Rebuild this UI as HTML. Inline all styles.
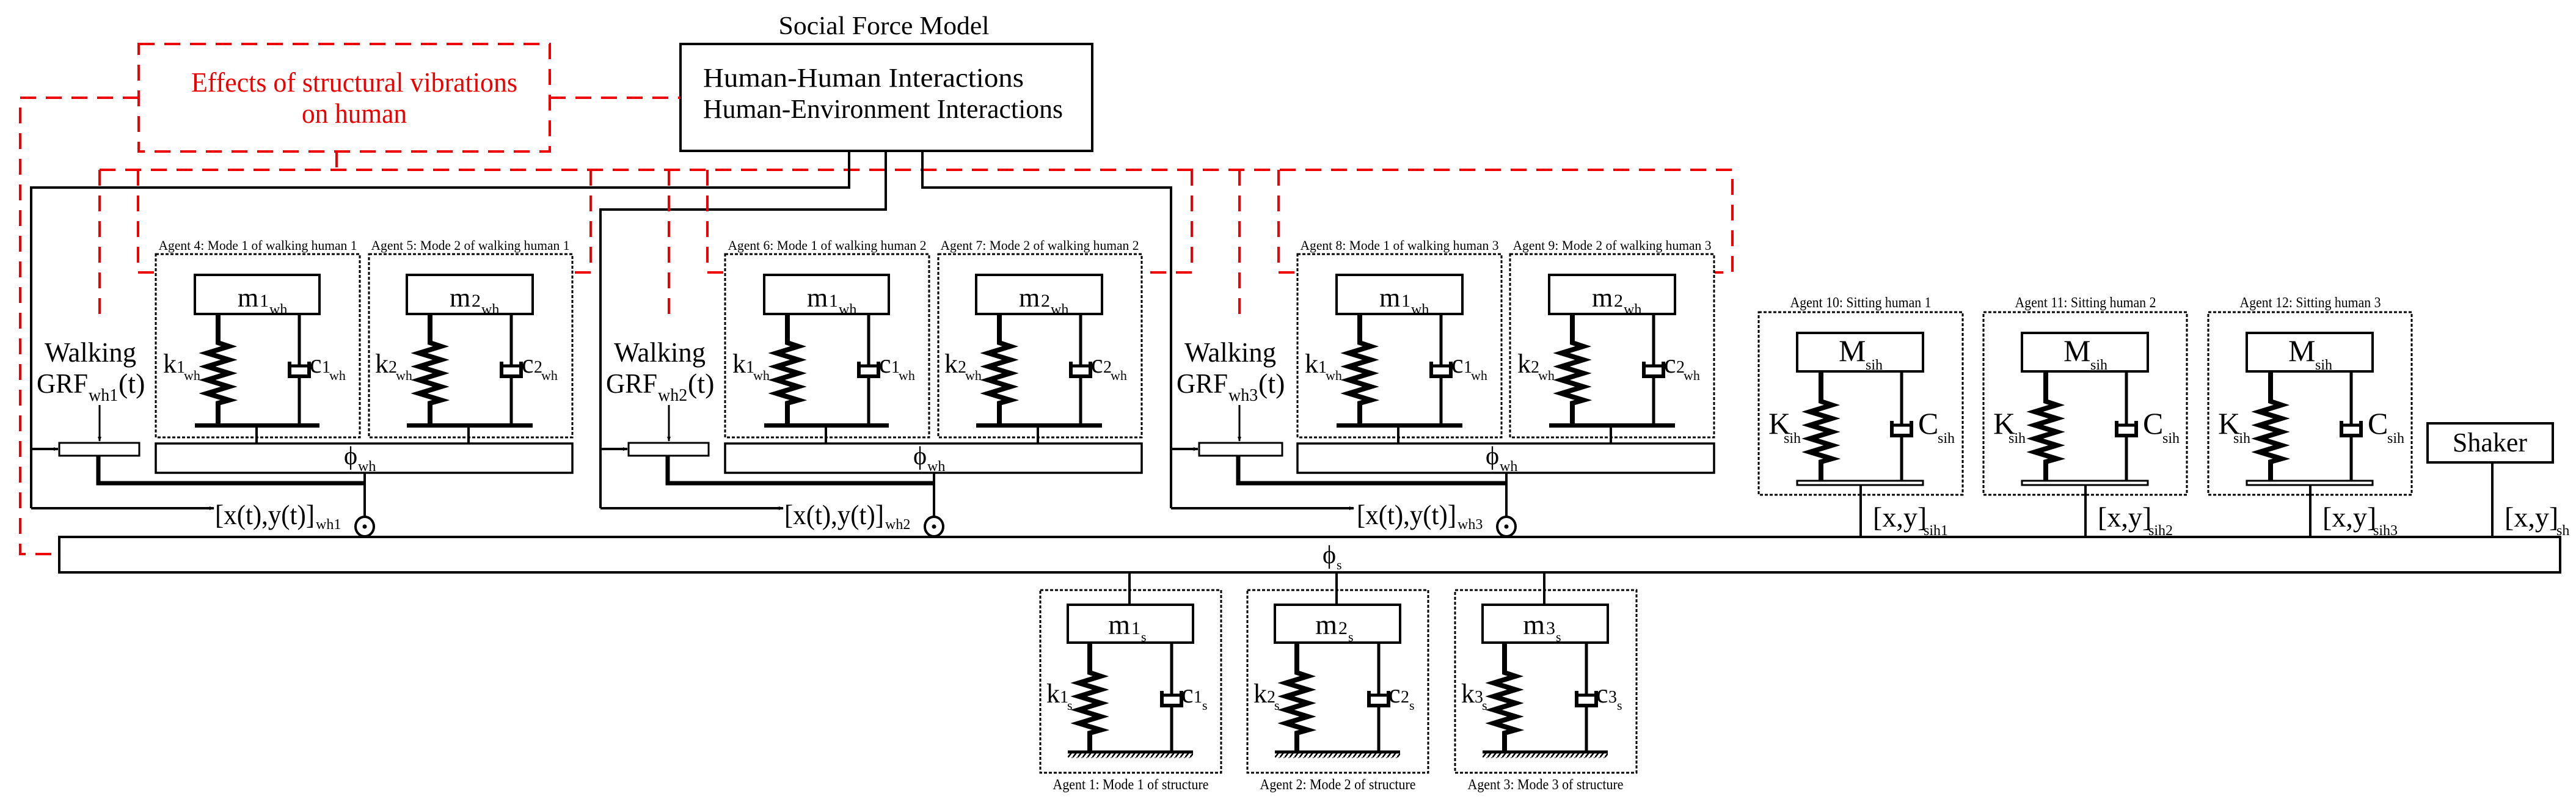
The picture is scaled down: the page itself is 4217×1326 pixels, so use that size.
<!DOCTYPE html>
<html><head><meta charset="utf-8"><style>
html,body{margin:0;padding:0;background:#fff;}
svg{display:block;font-family:"Liberation Serif",serif;}
text{font-family:"Liberation Serif",serif;fill:#000;}
</style></head><body>
<svg width="4217" height="1326" viewBox="0 0 4217 1326" xmlns="http://www.w3.org/2000/svg" font-family="Liberation Serif, serif">
<defs>
<pattern id="hatch" width="8" height="10" patternUnits="userSpaceOnUse"><path d="M0,10 L8,0" stroke="#000" stroke-width="2.5"/></pattern>
<marker id="ar" markerWidth="8" markerHeight="8" refX="7" refY="4" orient="auto" markerUnits="userSpaceOnUse"><path d="M0,1 L8,4 L0,7z" fill="#000"/></marker>
</defs>

<text x="1447" y="56" font-size="42" text-anchor="middle" textLength="345" lengthAdjust="spacingAndGlyphs">Social Force Model</text>
<rect x="1114" y="72" width="674" height="175" fill="none" stroke="#000" stroke-width="4"/>
<text x="1151" y="142" font-size="44" textLength="525" lengthAdjust="spacingAndGlyphs">Human-Human Interactions</text>
<text x="1151" y="193" font-size="44" textLength="589" lengthAdjust="spacingAndGlyphs">Human-Environment Interactions</text>

<g fill="none" stroke="#e00" stroke-width="4" stroke-dasharray="26,16">
<rect x="227" y="72" width="673" height="176"/>
<path d="M900,160 H1114"/>
<path d="M227,160 H33 V907 H97"/>
<path d="M551,248 V278"/>
<path d="M163,278 H2836 V446 H2807"/>
</g>
<text x="580" y="150" font-size="46" style="fill:#e00" text-anchor="middle" textLength="534" lengthAdjust="spacingAndGlyphs">Effects of structural vibrations</text>
<text x="580" y="201" font-size="46" style="fill:#e00" text-anchor="middle" textLength="172" lengthAdjust="spacingAndGlyphs">on human</text>

<g fill="none" stroke="#000" stroke-width="4">
<path d="M1390,247 V307 H51 V832"/>
<path d="M1450,247 V343 H983 V832"/>
<path d="M1510,247 V307 H1917 V832"/>
</g>

<g>
<g fill="none" stroke="#e00" stroke-width="4" stroke-dasharray="26,16">
<path d="M163,278 V523"/>
<path d="M226,278 V446 H255"/>
<path d="M967,278 V446 H939"/>
</g>
<text x="148" y="592" font-size="46" text-anchor="middle" textLength="150" lengthAdjust="spacingAndGlyphs">Walking</text>
<text x="60" y="643" font-size="46" textLength="84" lengthAdjust="spacingAndGlyphs">GRF</text>
<text x="145" y="656" font-size="28">wh1</text>
<text x="194" y="643" font-size="46">(t)</text>
<path d="M163,663 V722" stroke="#000" stroke-width="3" marker-end="url(#ar)"/>
<path d="M51,735 H95" stroke="#000" stroke-width="4" marker-end="url(#ar)"/>
<path d="M51,832 H350" stroke="#000" stroke-width="4" marker-end="url(#ar)"/>
<rect x="97" y="725" width="131" height="21" fill="#fff" stroke="#000" stroke-width="3"/>
<path d="M161,746 V791 H597" fill="none" stroke="#000" stroke-width="7"/>
<rect x="255" y="726" width="682" height="48" fill="none" stroke="#000" stroke-width="3.5"/>
<text x="563" y="760" font-size="42">ϕ</text>
<text x="586" y="771" font-size="24">wh</text>
<path d="M597,774 V848" stroke="#000" stroke-width="4"/>
<ellipse cx="597" cy="862" rx="15" ry="16" fill="#fff" stroke="#000" stroke-width="4"/>
<circle cx="597" cy="862" r="3.5" fill="#000"/>
<text x="352" y="858" font-size="46" textLength="163" lengthAdjust="spacingAndGlyphs">[x(t),y(t)]</text>
<text x="517" y="866" font-size="24">wh1</text>
<rect x="255" y="416" width="334" height="300" fill="none" stroke="#000" stroke-width="3" stroke-dasharray="5,3"/>
<rect x="604" y="416" width="333" height="300" fill="none" stroke="#000" stroke-width="3" stroke-dasharray="5,3"/>
<text x="422" y="409" font-size="22" text-anchor="middle" textLength="325" lengthAdjust="spacingAndGlyphs">Agent 4: Mode 1 of walking human 1</text>
<text x="770" y="409" font-size="22" text-anchor="middle" textLength="325" lengthAdjust="spacingAndGlyphs">Agent 5: Mode 2 of walking human 1</text>
<g transform="translate(319,450)">
<rect x="0" y="0" width="204" height="64" fill="none" stroke="#000" stroke-width="4"/>
<path d="M38,64 V111 l18,6 l-36,11 l36,11 l-36,11 l36,11 l-36,11 l36,11 l-36,11 l36,11 l-18,5 V243" fill="none" stroke="#000" stroke-width="8"/>
<path d="M171,64 V149 M157,149 H185 M171,166 V243" stroke="#000" stroke-width="5" fill="none"/>
<path d="M155,142 V166 H187 V142" fill="none" stroke="#000" stroke-width="6"/>
<rect x="0" y="243" width="204" height="7" fill="#000"/>
<path d="M101,250 V276" stroke="#000" stroke-width="4"/>
<text x="70" y="52" font-size="44">m</text><text x="106" y="52" font-size="30">1</text><text x="122" y="64" font-size="24">wh</text>
<text x="-52" y="160" font-size="44">k</text><text x="-30" y="160" font-size="28">1</text><text x="-18" y="172" font-size="22">wh</text>
<text x="188" y="160" font-size="44">c</text><text x="208" y="160" font-size="28">1</text><text x="220" y="172" font-size="22">wh</text>
</g>
<g transform="translate(666,450)">
<rect x="0" y="0" width="206" height="64" fill="none" stroke="#000" stroke-width="4"/>
<path d="M38,64 V111 l18,6 l-36,11 l36,11 l-36,11 l36,11 l-36,11 l36,11 l-36,11 l36,11 l-18,5 V243" fill="none" stroke="#000" stroke-width="8"/>
<path d="M171,64 V149 M157,149 H185 M171,166 V243" stroke="#000" stroke-width="5" fill="none"/>
<path d="M155,142 V166 H187 V142" fill="none" stroke="#000" stroke-width="6"/>
<rect x="0" y="243" width="206" height="7" fill="#000"/>
<path d="M101,250 V276" stroke="#000" stroke-width="4"/>
<text x="70" y="52" font-size="44">m</text><text x="106" y="52" font-size="30">2</text><text x="122" y="64" font-size="24">wh</text>
<text x="-52" y="160" font-size="44">k</text><text x="-30" y="160" font-size="28">2</text><text x="-18" y="172" font-size="22">wh</text>
<text x="188" y="160" font-size="44">c</text><text x="208" y="160" font-size="28">2</text><text x="220" y="172" font-size="22">wh</text>
</g>
</g>

<g transform="translate(932,0)">
<g fill="none" stroke="#e00" stroke-width="4" stroke-dasharray="26,16">
<path d="M163,278 V523"/><path d="M226,278 V446 H255"/><path d="M1019,278 V446 H939"/>
</g>
<text x="148" y="592" font-size="46" text-anchor="middle" textLength="150" lengthAdjust="spacingAndGlyphs">Walking</text>
<text x="60" y="643" font-size="46" textLength="84" lengthAdjust="spacingAndGlyphs">GRF</text>
<text x="145" y="656" font-size="28">wh2</text>
<text x="194" y="643" font-size="46">(t)</text>
<path d="M163,663 V722" stroke="#000" stroke-width="3" marker-end="url(#ar)"/>
<path d="M51,735 H95" stroke="#000" stroke-width="4" marker-end="url(#ar)"/>
<path d="M51,832 H350" stroke="#000" stroke-width="4" marker-end="url(#ar)"/>
<rect x="97" y="725" width="131" height="21" fill="#fff" stroke="#000" stroke-width="3"/>
<path d="M161,746 V791 H597" fill="none" stroke="#000" stroke-width="7"/>
<rect x="255" y="726" width="682" height="48" fill="none" stroke="#000" stroke-width="3.5"/>
<text x="563" y="760" font-size="42">ϕ</text><text x="586" y="771" font-size="24">wh</text>
<path d="M597,774 V848" stroke="#000" stroke-width="4"/>
<ellipse cx="597" cy="862" rx="15" ry="16" fill="#fff" stroke="#000" stroke-width="4"/><circle cx="597" cy="862" r="3.5" fill="#000"/>
<text x="352" y="858" font-size="46" textLength="163" lengthAdjust="spacingAndGlyphs">[x(t),y(t)]</text><text x="517" y="866" font-size="24">wh2</text>
<rect x="255" y="416" width="334" height="300" fill="none" stroke="#000" stroke-width="3" stroke-dasharray="5,3"/>
<rect x="604" y="416" width="333" height="300" fill="none" stroke="#000" stroke-width="3" stroke-dasharray="5,3"/>
<text x="422" y="409" font-size="22" text-anchor="middle" textLength="325" lengthAdjust="spacingAndGlyphs">Agent 6: Mode 1 of walking human 2</text>
<text x="770" y="409" font-size="22" text-anchor="middle" textLength="325" lengthAdjust="spacingAndGlyphs">Agent 7: Mode 2 of walking human 2</text>
<g transform="translate(319,450)">
<rect x="0" y="0" width="204" height="64" fill="none" stroke="#000" stroke-width="4"/>
<path d="M38,64 V111 l18,6 l-36,11 l36,11 l-36,11 l36,11 l-36,11 l36,11 l-36,11 l36,11 l-18,5 V243" fill="none" stroke="#000" stroke-width="8"/>
<path d="M171,64 V149 M157,149 H185 M171,166 V243" stroke="#000" stroke-width="5" fill="none"/>
<path d="M155,142 V166 H187 V142" fill="none" stroke="#000" stroke-width="6"/>
<rect x="0" y="243" width="204" height="7" fill="#000"/><path d="M101,250 V276" stroke="#000" stroke-width="4"/>
<text x="70" y="52" font-size="44">m</text><text x="106" y="52" font-size="30">1</text><text x="122" y="64" font-size="24">wh</text>
<text x="-52" y="160" font-size="44">k</text><text x="-30" y="160" font-size="28">1</text><text x="-18" y="172" font-size="22">wh</text>
<text x="188" y="160" font-size="44">c</text><text x="208" y="160" font-size="28">1</text><text x="220" y="172" font-size="22">wh</text>
</g>
<g transform="translate(666,450)">
<rect x="0" y="0" width="206" height="64" fill="none" stroke="#000" stroke-width="4"/>
<path d="M38,64 V111 l18,6 l-36,11 l36,11 l-36,11 l36,11 l-36,11 l36,11 l-36,11 l36,11 l-18,5 V243" fill="none" stroke="#000" stroke-width="8"/>
<path d="M171,64 V149 M157,149 H185 M171,166 V243" stroke="#000" stroke-width="5" fill="none"/>
<path d="M155,142 V166 H187 V142" fill="none" stroke="#000" stroke-width="6"/>
<rect x="0" y="243" width="206" height="7" fill="#000"/><path d="M101,250 V276" stroke="#000" stroke-width="4"/>
<text x="70" y="52" font-size="44">m</text><text x="106" y="52" font-size="30">2</text><text x="122" y="64" font-size="24">wh</text>
<text x="-52" y="160" font-size="44">k</text><text x="-30" y="160" font-size="28">2</text><text x="-18" y="172" font-size="22">wh</text>
<text x="188" y="160" font-size="44">c</text><text x="208" y="160" font-size="28">2</text><text x="220" y="172" font-size="22">wh</text>
</g>
</g>

<g transform="translate(1866,0)">
<g fill="none" stroke="#e00" stroke-width="4" stroke-dasharray="26,16">
<path d="M163,278 V523"/><path d="M227,278 V446 H258"/>
</g>
<text x="148" y="592" font-size="46" text-anchor="middle" textLength="150" lengthAdjust="spacingAndGlyphs">Walking</text>
<text x="60" y="643" font-size="46" textLength="84" lengthAdjust="spacingAndGlyphs">GRF</text>
<text x="145" y="656" font-size="28">wh3</text>
<text x="194" y="643" font-size="46">(t)</text>
<path d="M163,663 V722" stroke="#000" stroke-width="3" marker-end="url(#ar)"/>
<path d="M51,735 H95" stroke="#000" stroke-width="4" marker-end="url(#ar)"/>
<path d="M51,832 H350" stroke="#000" stroke-width="4" marker-end="url(#ar)"/>
<rect x="97" y="725" width="136" height="21" fill="#fff" stroke="#000" stroke-width="3"/>
<path d="M161,746 V791 H600" fill="none" stroke="#000" stroke-width="7"/>
<rect x="258" y="726" width="682" height="48" fill="none" stroke="#000" stroke-width="3.5"/>
<text x="566" y="760" font-size="42">ϕ</text><text x="589" y="771" font-size="24">wh</text>
<path d="M600,774 V848" stroke="#000" stroke-width="4"/>
<ellipse cx="600" cy="862" rx="15" ry="16" fill="#fff" stroke="#000" stroke-width="4"/><circle cx="600" cy="862" r="3.5" fill="#000"/>
<text x="355" y="858" font-size="46" textLength="163" lengthAdjust="spacingAndGlyphs">[x(t),y(t)]</text><text x="520" y="866" font-size="24">wh3</text>
<rect x="258" y="416" width="334" height="300" fill="none" stroke="#000" stroke-width="3" stroke-dasharray="5,3"/>
<rect x="606" y="416" width="334" height="300" fill="none" stroke="#000" stroke-width="3" stroke-dasharray="5,3"/>
<text x="425" y="409" font-size="22" text-anchor="middle" textLength="325" lengthAdjust="spacingAndGlyphs">Agent 8: Mode 1 of walking human 3</text>
<text x="773" y="409" font-size="22" text-anchor="middle" textLength="325" lengthAdjust="spacingAndGlyphs">Agent 9: Mode 2 of walking human 3</text>
<g transform="translate(322,450)">
<rect x="0" y="0" width="206" height="64" fill="none" stroke="#000" stroke-width="4"/>
<path d="M38,64 V111 l18,6 l-36,11 l36,11 l-36,11 l36,11 l-36,11 l36,11 l-36,11 l36,11 l-18,5 V243" fill="none" stroke="#000" stroke-width="8"/>
<path d="M171,64 V149 M157,149 H185 M171,166 V243" stroke="#000" stroke-width="5" fill="none"/>
<path d="M155,142 V166 H187 V142" fill="none" stroke="#000" stroke-width="6"/>
<rect x="0" y="243" width="206" height="7" fill="#000"/><path d="M101,250 V276" stroke="#000" stroke-width="4"/>
<text x="70" y="52" font-size="44">m</text><text x="106" y="52" font-size="30">1</text><text x="122" y="64" font-size="24">wh</text>
<text x="-52" y="160" font-size="44">k</text><text x="-30" y="160" font-size="28">1</text><text x="-18" y="172" font-size="22">wh</text>
<text x="188" y="160" font-size="44">c</text><text x="208" y="160" font-size="28">1</text><text x="220" y="172" font-size="22">wh</text>
</g>
<g transform="translate(670,450)">
<rect x="0" y="0" width="206" height="64" fill="none" stroke="#000" stroke-width="4"/>
<path d="M38,64 V111 l18,6 l-36,11 l36,11 l-36,11 l36,11 l-36,11 l36,11 l-36,11 l36,11 l-18,5 V243" fill="none" stroke="#000" stroke-width="8"/>
<path d="M171,64 V149 M157,149 H185 M171,166 V243" stroke="#000" stroke-width="5" fill="none"/>
<path d="M155,142 V166 H187 V142" fill="none" stroke="#000" stroke-width="6"/>
<rect x="0" y="243" width="206" height="7" fill="#000"/><path d="M101,250 V276" stroke="#000" stroke-width="4"/>
<text x="70" y="52" font-size="44">m</text><text x="106" y="52" font-size="30">2</text><text x="122" y="64" font-size="24">wh</text>
<text x="-52" y="160" font-size="44">k</text><text x="-30" y="160" font-size="28">2</text><text x="-18" y="172" font-size="22">wh</text>
<text x="188" y="160" font-size="44">c</text><text x="208" y="160" font-size="28">2</text><text x="220" y="172" font-size="22">wh</text>
</g>
</g>

<rect x="97" y="879" width="4094" height="58" fill="none" stroke="#000" stroke-width="4"/>
<text x="2165" y="922" font-size="42">ϕ</text><text x="2188" y="932" font-size="22">s</text>

<g transform="translate(1703,0)">
<rect x="0" y="966" width="296" height="299" fill="none" stroke="#000" stroke-width="3" stroke-dasharray="5,3"/>
<text x="148" y="1292" font-size="24" text-anchor="middle" textLength="255" lengthAdjust="spacingAndGlyphs">Agent 1: Mode 1 of structure</text>
<g transform="translate(45,990)">
<path d="M101,-53 V0" stroke="#000" stroke-width="4"/>
<rect x="0" y="0" width="205" height="62" fill="none" stroke="#000" stroke-width="4"/>
<path d="M36,62 V111 l18,6 l-36,11 l36,11 l-36,11 l36,11 l-36,11 l36,11 l-36,11 l36,11 l-18,5 V241" fill="none" stroke="#000" stroke-width="8"/>
<path d="M170,62 V148 M156,148 H184 M170,165 V241" stroke="#000" stroke-width="5" fill="none"/>
<path d="M154,141 V165 H186 V141" fill="none" stroke="#000" stroke-width="6"/>
<path d="M0,241 H205" stroke="#000" stroke-width="5"/>
<rect x="0" y="243" width="205" height="8" fill="url(#hatch)"/>
<text x="102" y="48" font-size="46" text-anchor="end">m</text><text x="104" y="48" font-size="30">1</text><text x="120" y="60" font-size="22">s</text>
<text x="-35" y="160" font-size="44">k</text><text x="-13" y="160" font-size="28">1</text><text x="-1" y="172" font-size="22">s</text>
<text x="186" y="160" font-size="44">c</text><text x="206" y="160" font-size="28">1</text><text x="220" y="172" font-size="22">s</text>
</g>
</g>
<g transform="translate(2042,0)">
<rect x="0" y="966" width="296" height="299" fill="none" stroke="#000" stroke-width="3" stroke-dasharray="5,3"/>
<text x="148" y="1292" font-size="24" text-anchor="middle" textLength="255" lengthAdjust="spacingAndGlyphs">Agent 2: Mode 2 of structure</text>
<g transform="translate(45,990)">
<path d="M101,-53 V0" stroke="#000" stroke-width="4"/>
<rect x="0" y="0" width="205" height="62" fill="none" stroke="#000" stroke-width="4"/>
<path d="M36,62 V111 l18,6 l-36,11 l36,11 l-36,11 l36,11 l-36,11 l36,11 l-36,11 l36,11 l-18,5 V241" fill="none" stroke="#000" stroke-width="8"/>
<path d="M170,62 V148 M156,148 H184 M170,165 V241" stroke="#000" stroke-width="5" fill="none"/>
<path d="M154,141 V165 H186 V141" fill="none" stroke="#000" stroke-width="6"/>
<path d="M0,241 H205" stroke="#000" stroke-width="5"/>
<rect x="0" y="243" width="205" height="8" fill="url(#hatch)"/>
<text x="102" y="48" font-size="46" text-anchor="end">m</text><text x="104" y="48" font-size="30">2</text><text x="120" y="60" font-size="22">s</text>
<text x="-35" y="160" font-size="44">k</text><text x="-13" y="160" font-size="28">2</text><text x="-1" y="172" font-size="22">s</text>
<text x="186" y="160" font-size="44">c</text><text x="206" y="160" font-size="28">2</text><text x="220" y="172" font-size="22">s</text>
</g>
</g>
<g transform="translate(2382,0)">
<rect x="0" y="966" width="297" height="299" fill="none" stroke="#000" stroke-width="3" stroke-dasharray="5,3"/>
<text x="148" y="1292" font-size="24" text-anchor="middle" textLength="255" lengthAdjust="spacingAndGlyphs">Agent 3: Mode 3 of structure</text>
<g transform="translate(45,990)">
<path d="M101,-53 V0" stroke="#000" stroke-width="4"/>
<rect x="0" y="0" width="205" height="62" fill="none" stroke="#000" stroke-width="4"/>
<path d="M36,62 V111 l18,6 l-36,11 l36,11 l-36,11 l36,11 l-36,11 l36,11 l-36,11 l36,11 l-18,5 V241" fill="none" stroke="#000" stroke-width="8"/>
<path d="M170,62 V148 M156,148 H184 M170,165 V241" stroke="#000" stroke-width="5" fill="none"/>
<path d="M154,141 V165 H186 V141" fill="none" stroke="#000" stroke-width="6"/>
<path d="M0,241 H205" stroke="#000" stroke-width="5"/>
<rect x="0" y="243" width="205" height="8" fill="url(#hatch)"/>
<text x="102" y="48" font-size="46" text-anchor="end">m</text><text x="104" y="48" font-size="30">3</text><text x="120" y="60" font-size="22">s</text>
<text x="-35" y="160" font-size="44">k</text><text x="-13" y="160" font-size="28">3</text><text x="-1" y="172" font-size="22">s</text>
<text x="186" y="160" font-size="44">c</text><text x="206" y="160" font-size="28">3</text><text x="220" y="172" font-size="22">s</text>
</g>
</g>

<g transform="translate(2879,0)">
<rect x="0" y="511" width="334" height="299" fill="none" stroke="#000" stroke-width="3" stroke-dasharray="5,3"/>
<text x="167" y="503" font-size="24" text-anchor="middle" textLength="231" lengthAdjust="spacingAndGlyphs">Agent 10: Sitting human 1</text>
<g transform="translate(63,545)">
<rect x="0" y="0" width="206" height="63" fill="none" stroke="#000" stroke-width="4"/>
<path d="M39,63 V112 l18,6 l-36,11 l36,11 l-36,11 l36,11 l-36,11 l36,11 l-36,11 l36,11 l-18,5 V242" fill="none" stroke="#000" stroke-width="8"/>
<path d="M171,63 V151 M157,151 H185 M171,168 V242" stroke="#000" stroke-width="5" fill="none"/>
<path d="M155,144 V168 H187 V144" fill="none" stroke="#000" stroke-width="6"/>
<rect x="0" y="242" width="206" height="7" fill="#fff" stroke="#000" stroke-width="3"/>
<path d="M104,249 V334" stroke="#000" stroke-width="4"/>
<text x="68" y="46" font-size="50">M</text><text x="112" y="60" font-size="24">sih</text>
<text x="-47" y="165" font-size="50">K</text><text x="-22" y="180" font-size="24">sih</text>
<text x="198" y="165" font-size="50">C</text><text x="230" y="180" font-size="24">sih</text>
</g>
<text x="187" y="862" font-size="46">[x,y]</text><text x="270" y="876" font-size="24">sih1</text>
</g>
<g transform="translate(3247,0)">
<rect x="0" y="511" width="333" height="299" fill="none" stroke="#000" stroke-width="3" stroke-dasharray="5,3"/>
<text x="167" y="503" font-size="24" text-anchor="middle" textLength="231" lengthAdjust="spacingAndGlyphs">Agent 11: Sitting human 2</text>
<g transform="translate(63,545)">
<rect x="0" y="0" width="206" height="63" fill="none" stroke="#000" stroke-width="4"/>
<path d="M39,63 V112 l18,6 l-36,11 l36,11 l-36,11 l36,11 l-36,11 l36,11 l-36,11 l36,11 l-18,5 V242" fill="none" stroke="#000" stroke-width="8"/>
<path d="M171,63 V151 M157,151 H185 M171,168 V242" stroke="#000" stroke-width="5" fill="none"/>
<path d="M155,144 V168 H187 V144" fill="none" stroke="#000" stroke-width="6"/>
<rect x="0" y="242" width="206" height="7" fill="#fff" stroke="#000" stroke-width="3"/>
<path d="M104,249 V334" stroke="#000" stroke-width="4"/>
<text x="68" y="46" font-size="50">M</text><text x="112" y="60" font-size="24">sih</text>
<text x="-47" y="165" font-size="50">K</text><text x="-22" y="180" font-size="24">sih</text>
<text x="198" y="165" font-size="50">C</text><text x="230" y="180" font-size="24">sih</text>
</g>
<text x="187" y="862" font-size="46">[x,y]</text><text x="270" y="876" font-size="24">sih2</text>
</g>
<g transform="translate(3615,0)">
<rect x="0" y="511" width="333" height="299" fill="none" stroke="#000" stroke-width="3" stroke-dasharray="5,3"/>
<text x="167" y="503" font-size="24" text-anchor="middle" textLength="231" lengthAdjust="spacingAndGlyphs">Agent 12: Sitting human 3</text>
<g transform="translate(63,545)">
<rect x="0" y="0" width="206" height="63" fill="none" stroke="#000" stroke-width="4"/>
<path d="M39,63 V112 l18,6 l-36,11 l36,11 l-36,11 l36,11 l-36,11 l36,11 l-36,11 l36,11 l-18,5 V242" fill="none" stroke="#000" stroke-width="8"/>
<path d="M171,63 V151 M157,151 H185 M171,168 V242" stroke="#000" stroke-width="5" fill="none"/>
<path d="M155,144 V168 H187 V144" fill="none" stroke="#000" stroke-width="6"/>
<rect x="0" y="242" width="206" height="7" fill="#fff" stroke="#000" stroke-width="3"/>
<path d="M104,249 V334" stroke="#000" stroke-width="4"/>
<text x="68" y="46" font-size="50">M</text><text x="112" y="60" font-size="24">sih</text>
<text x="-47" y="165" font-size="50">K</text><text x="-22" y="180" font-size="24">sih</text>
<text x="198" y="165" font-size="50">C</text><text x="230" y="180" font-size="24">sih</text>
</g>
<text x="187" y="862" font-size="46">[x,y]</text><text x="270" y="876" font-size="24">sih3</text>
</g>

<rect x="3974" y="693" width="205" height="64" fill="none" stroke="#000" stroke-width="4"/>
<text x="4076" y="739" font-size="44" text-anchor="middle">Shaker</text>
<path d="M4080,757 V879" stroke="#000" stroke-width="4"/>
<text x="4100" y="862" font-size="46">[x,y]</text><text x="4185" y="876" font-size="24">sh</text>
</svg>
</body></html>
